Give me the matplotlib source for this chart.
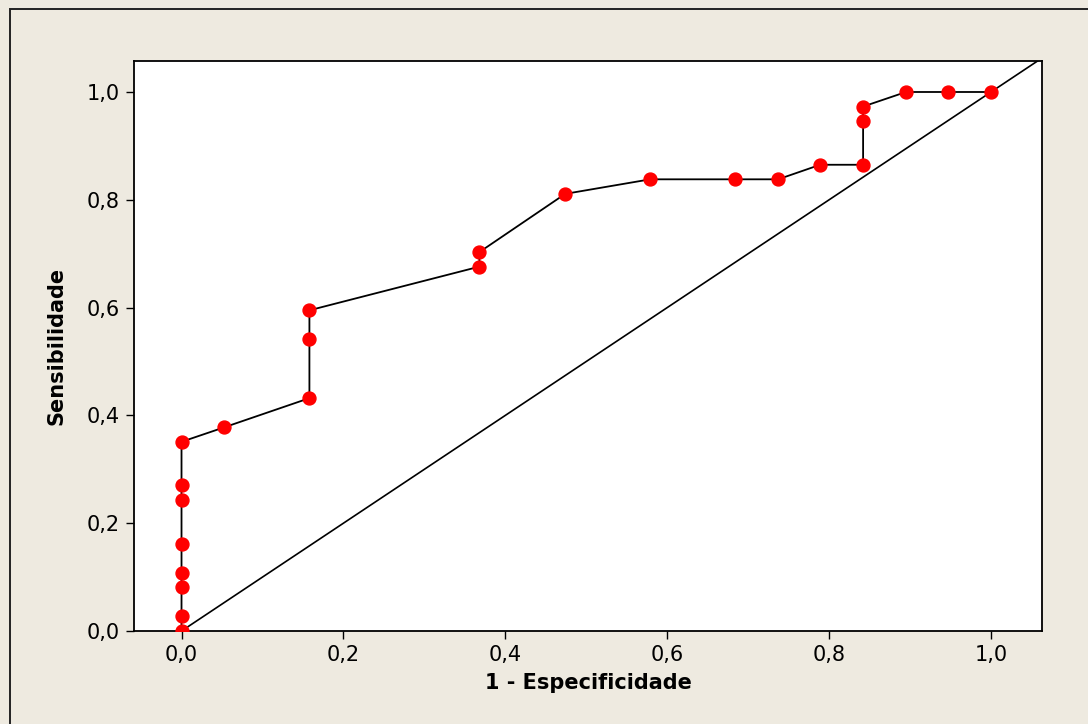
import matplotlib.pyplot as plt
from matplotlib.patches import Rectangle

# curva ROC: 1 - especificidade x sensibilidade
fpr = [0.0, 0.0, 0.0, 0.0, 0.0, 0.0, 0.0, 0.0, 0.053, 0.158, 0.158, 0.158,
       0.368, 0.368, 0.474, 0.579, 0.684, 0.737, 0.789, 0.842, 0.842, 0.842,
       0.895, 0.947, 1.0]
tpr = [0.0, 0.027, 0.081, 0.108, 0.162, 0.243, 0.270, 0.351, 0.378, 0.432,
       0.541, 0.595, 0.676, 0.703, 0.811, 0.838, 0.838, 0.838, 0.865, 0.865,
       0.946, 0.973, 1.0, 1.0, 1.0]
ticks = [0.0, 0.2, 0.4, 0.6, 0.8, 1.0]
tick_labels = ['0,0', '0,2', '0,4', '0,6', '0,8', '1,0']

bg = '#EEEAE0'
fig = plt.figure(figsize=(10.88, 7.24), dpi=100, facecolor=bg)
# moldura externa (so aparecem as bordas esquerda e superior)
fig.patches.append(Rectangle((10 / 1088, -0.2), 1.3, 1.2 - 9 / 724, transform=fig.transFigure,
                             fill=False, edgecolor='#222222', linewidth=1.4, zorder=0))

ax = fig.add_axes([134 / 1088, 1 - 631 / 724, 908 / 1088, 570 / 724])
ax.set_facecolor('white')

# linha de referencia
ax.plot([0, 1.06], [0, 1.06], color='black', linewidth=1.2, zorder=1)
ax.plot(fpr, tpr, color='black', linewidth=1.3, zorder=2)
ax.plot(fpr, tpr, linestyle='none', marker='o', markersize=9.3,
        markerfacecolor='red', markeredgecolor='red', zorder=3)

ax.set_xlim(-0.0587, 1.063)
ax.set_ylim(0, 1.0575)
ax.set_xticks(ticks)
ax.set_xticklabels(tick_labels)
ax.set_yticks(ticks)
ax.set_yticklabels(tick_labels)
ax.tick_params(direction='out', length=6, width=1, labelsize=15, pad=4)
for s in ax.spines.values():
    s.set_linewidth(1.3)

ax.set_xlabel('1 - Especificidade', fontsize=15, fontweight='bold', labelpad=6)
ax.set_ylabel('Sensibilidade', fontsize=15, fontweight='bold', labelpad=15)

plt.savefig('out.png', dpi=100, facecolor=bg)
